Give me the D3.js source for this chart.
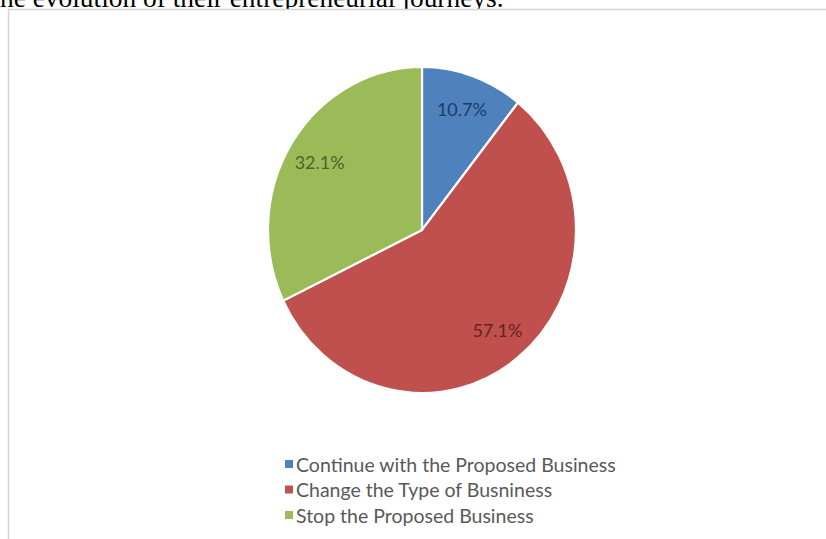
<!DOCTYPE html>
<html>
<head>
<meta charset="utf-8">
<script src="https://cdn.jsdelivr.net/npm/d3@7"></script>
<style>
  html, body { margin: 0; padding: 0; background: #fff; }
  svg { display: block; }
</style>
</head>
<body>
<svg id="chart" width="826" height="539"></svg>
<script>
const categories = ["Continue with the Proposed Business", "Change the Type of Busniness", "Stop the Proposed Business"];
const values = [10.7, 57.1, 32.1];
const labels = ["10.7%", "57.1%", "32.1%"];
const colors = ["#4f81bd", "#c0504d", "#9bbb59"];
const labelColors = ["#1f3c64", "#632523", "#4f6228"];
const headerText = "he evolution of their entrepreneurial journeys.";

const svg = d3.select("#chart");

// header text (cut off at top)
svg.append("text")
  .attr("x", 0).attr("y", 7)
  .attr("font-family", "Liberation Serif, Times New Roman, serif")
  .attr("font-size", 27.4)
  .attr("fill", "#000")
  .text(headerText);

// chart frame
svg.append("rect")
  .attr("x", 8.5).attr("y", 9.5)
  .attr("width", 830).attr("height", 540)
  .attr("fill", "#fff")
  .attr("stroke", "#d4d4d4")
  .attr("stroke-width", 1.5);

const cx = 422, cy = 230, r = 163, sx = 154 / 163;

const pie = d3.pie().sort(null).value(d => d)(values);
const arc = d3.arc().innerRadius(0).outerRadius(r);
const labelArc = d3.arc().innerRadius(256).outerRadius(0);

const g = svg.append("g").attr("transform", `translate(${cx},${cy})`);
const pg = g.append("g").attr("transform", `scale(${sx},1)`);

pg.selectAll("path").data(pie).join("path")
  .attr("d", arc)
  .attr("fill", (d, i) => colors[i])
  .attr("stroke", "#fff")
  .attr("stroke-width", 2.2)
  .attr("vector-effect", "non-scaling-stroke");

g.selectAll("text.lbl").data(pie).join("text")
  .attr("class", "lbl")
  .attr("x", d => labelArc.centroid(d)[0] * sx)
  .attr("y", d => labelArc.centroid(d)[1])
  .attr("text-anchor", "middle")
  .attr("dominant-baseline", "central")
  .attr("font-family", "Lato, Open Sans, sans-serif")
  .attr("font-size", 18)
  .attr("fill", (d, i) => labelColors[i])
  .text((d, i) => labels[i]);

// legend
const lx = 285, ly0 = 464, ldy = 25.5;
const leg = svg.append("g");
const items = leg.selectAll("g").data(categories).join("g")
  .attr("transform", (d, i) => `translate(${lx},${ly0 + i * ldy})`);
items.append("rect")
  .attr("x", 0).attr("y", -4).attr("width", 8).attr("height", 8)
  .attr("fill", (d, i) => colors[i]);
items.append("text")
  .attr("x", 11).attr("y", 0)
  .attr("dominant-baseline", "central")
  .attr("font-family", "Lato, Open Sans, sans-serif")
  .attr("font-size", 19.5)
  .attr("fill", "#595959")
  .text(d => d);
</script>
</body>
</html>
